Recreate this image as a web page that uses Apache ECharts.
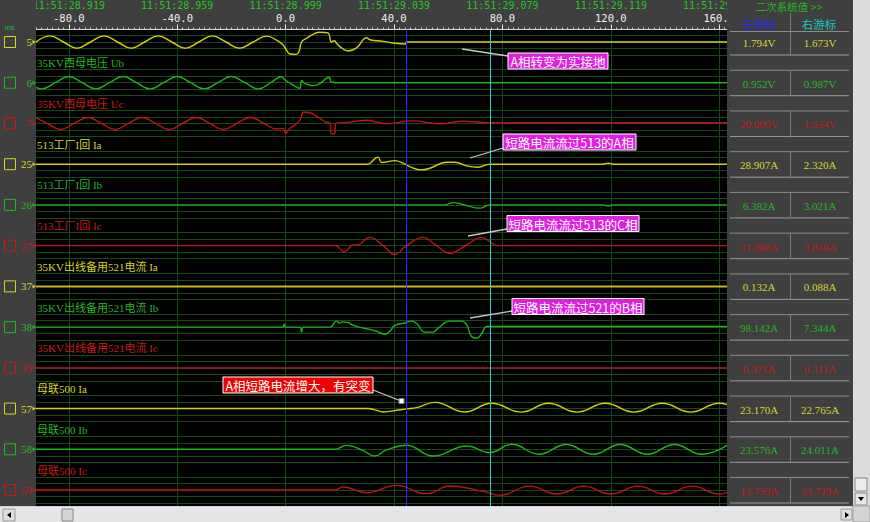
<!DOCTYPE html>
<html><head><meta charset="utf-8">
<script src="https://cdn.jsdelivr.net/npm/echarts@6/dist/echarts.min.js"></script>
<style>html,body{margin:0;padding:0;background:#3f3f3f}#c{width:870px;height:522px}</style>
</head><body><div id="c"></div>
<script>
// ---------- data ----------
const msTicks = [-80, -40, 0, 40, 80, 120, 160];
const timeTicks = ['11:51:28.919','11:51:28.959','11:51:28.999','11:51:29.039','11:51:29.079','11:51:29.119','11:51:29.159'];
const channelNumbers = ['5','6','7','25','26','27','37','38','39','57','58','59'];
const channelNames = ['', '35KV西母电压 Ub', '35KV西母电压 Uc', '513工厂I回 Ia', '513工厂I回 Ib', '513工厂I回 Ic',
  '35KV出线备用521电流 Ia', '35KV出线备用521电流 Ib', '35KV出线备用521电流 Ic', '母联500 Ia', '母联500 Ib', '母联500 Ic'];
const channelPhase = ['Y','G','R','Y','G','R','Y2','G','R','Y','G','R'];
const leftCursorValues = ['1.794V','0.952V','20.009V','28.907A','6.382A','31.086A','0.132A','98.142A','0.371A','23.170A','23.576A','13.739A'];
const rightCursorValues = ['1.673V','0.987V','1.634V','2.320A','3.021A','3.846A','0.088A','7.344A','0.311A','22.765A','24.011A','23.729A'];
const cursorTimes = [44.5, 75.5];
const panelTitle = '二次系统值 >>';
const cursorTitles = ['左游标', '右游标'];
const notes = ['A相转变为实接地', '短路电流流过513的A相', '短路电流流过513的C相', '短路电流流过521的B相', 'A相短路电流增大，有突变'];

// waveform samples [ms, value in grid units]
const ch5 = [[-92.2,-0.05],[-87,0.95],[-82,0],[-77,-0.95],[-72,0],[-67,0.95],[-62,0],[-57,-0.95],[-52,0],[-47,0.95],[-42,0],[-37,-0.95],[-32,0],[-27,0.95],[-22,0],[-17,-0.95],[-12,0],[-7,0.9],[-3,0.2],[-0.9,-0.46],[0.4,-1.3],[1.6,-1.85],[4,-1.9],[5,-1.4],[5.9,0],[7.7,0.57],[10.1,1.18],[12.6,1.49],[15.6,1.4],[16.9,0],[18,0.2],[18.8,-0.2],[20,-0.7],[23.1,-1.38],[26.2,-0.9],[29.9,0.66],[31.1,0.35],[36,0.1],[39.7,-0.15],[44.3,-0.3],[44.6,0],[162.9,0]];
const ch6 = [[-92.2,-0.72],[-90,-0.95],[-85,0],[-80,0.95],[-75,0],[-70,-0.95],[-65,0],[-60,0.95],[-55,0],[-50,-0.95],[-45,0],[-40,0.95],[-35,0],[-30,-0.95],[-25,0],[-20,0.95],[-15,0],[-10,-0.95],[-5.5,0],[-1.5,0.92],[-0.3,0.45],[2.5,-0.3],[5.2,-0.86],[5.9,0.35],[6.8,-0.05],[7.7,-0.2],[10.1,-0.45],[12.6,-0.15],[16,0.85],[16.9,0.05],[17.5,0.12],[18.2,0],[162.9,0]];
const ch7 = [[-92.2,0.88],[-88,0],[-83,-0.92],[-78,0],[-73,0.92],[-68,0],[-63,-0.92],[-58,0],[-53,0.92],[-48,0],[-43,-0.92],[-38,0],[-33,0.92],[-28,0],[-23,-0.92],[-18,0],[-13,0.92],[-8,0],[-3.4,-0.85],[-0.9,-0.75],[0.1,-1.55],[0.9,-1.0],[5.2,0.43],[6.5,1.72],[7.7,1.72],[15.1,0.18],[16.3,0.1],[16.9,-1.6],[18.1,-1.6],[18.5,-0.05],[24,0.2],[29.9,0.5],[37.2,-0.05],[47,0.4],[56.9,-0.05],[65.5,0.35],[75,0.1],[162.9,0.1]];
const ch25 = [[-92.2,0],[30,0],[31,0.1],[34.1,1.08],[35.4,0.25],[36.6,0.3],[40.3,0.55],[43.4,0.15],[45.8,-0.37],[50.1,-0.88],[53.2,-0.62],[59.4,0.3],[62.4,0.3],[66.8,-0.26],[71,-0.46],[75.4,0],[117,0],[119,0.15],[121,0],[162.9,0]];
const ch26 = [[-92.2,0],[58.5,0],[61.8,0.35],[66,0],[71.7,-0.5],[75.4,0],[117,0],[119,-0.15],[121,0],[162.9,0]];
const ch27 = [[-92.2,0],[18.1,0],[21.8,-0.92],[24.9,0.1],[26.8,0.15],[31.1,1.28],[36,0],[40.3,-1.35],[44.6,0],[50.7,1.28],[55.7,0],[60.6,-1.2],[66,-0.1],[72.5,1.28],[75.4,0.6],[78,0],[162.9,0]];
const ch37 = [[-92.2,0],[162.9,0]];
const ch38 = [[-92.2,0],[-1,0],[-0.5,0.45],[0,0],[5.3,0],[5.9,-0.77],[6.5,0],[16.3,0],[18.8,0.92],[20,0.62],[21,0.8],[23.1,0.68],[24.3,0.4],[27.4,-0.05],[31.1,-0.35],[34.1,-0.72],[36.6,-1.12],[38.5,-0.6],[40.3,0.26],[43.4,0.57],[46.5,0.92],[48.3,0.6],[51.4,-0.77],[54.4,-0.77],[56.3,-0.15],[60.6,0.92],[64.9,0.92],[66.8,0.4],[68.6,-1.45],[70.6,-1.7],[72.5,-0.9],[74.3,0.1],[162.9,0.1]];
const ch39 = [[-92.2,0],[162.9,0]];
const ch57 = [[-92.2,0],[30.5,0],[33,-0.2],[36,-0.52],[39.7,-0.35],[44.6,-0.05],[48.3,0.15],[55.1,0.95],[66.1,-0.52],[76,0.82],[87,-0.55],[97,0.82],[107.5,-0.55],[118,0.82],[128.5,-0.55],[139,0.82],[149.5,-0.55],[160,0.82],[162.9,0.6]];
const ch58 = [[-92.2,0],[18,0],[22.5,0.6],[28.6,-0.2],[32.9,-1.03],[37.2,-0.1],[44.6,0.62],[54.4,-1.03],[66.8,0.51],[75.4,-0.51],[83.4,0.77],[93.5,-0.75],[103.5,0.75],[113.5,-0.75],[123.5,0.75],[133.5,-0.75],[143.5,0.75],[153.5,-0.75],[162.9,0.6]];
const ch59 = [[-92.2,0],[18,0],[21.2,0.46],[29.9,-0.41],[40.9,0.72],[52,-0.56],[60.6,0.62],[72.9,-0.2],[79,-0.82],[90,0.6],[100,-0.6],[110,0.6],[120,-0.6],[130,0.6],[140,-0.6],[150,0.6],[160,-0.6],[162.9,-0.35]];
const waves = [ch5, ch6, ch7, ch25, ch26, ch27, ch37, ch38, ch39, ch57, ch58, ch59];

// ---------- layout / style ----------
const X0 = 285.6, K = 2.71, AX_MIN = -120, AX_MAX = 200;
const gridLeft = X0 + AX_MIN * K, gridWidth = (AX_MAX - AX_MIN) * K;
const base = i => 42 + i * 40.73;
const waveColor = {Y:'#d2d200', Y2:'#c8b41a', G:'#18b818', R:'#c41212'};
const textColor = {Y:'#d6d628', Y2:'#d6d628', G:'#22b822', R:'#c81818'};
const SERIF = '"Liberation Serif","Noto Sans CJK SC",serif';
const CJK = '"Noto Sans CJK SC","Liberation Sans",sans-serif';
const MONO = '"DejaVu Sans Mono","Liberation Mono",monospace';
const PANEL = '#3f3f3f';

const grids = [{left: gridLeft, top: 29.5, width: gridWidth, height: 476.5, show: true, backgroundColor: '#000', borderWidth: 0, outerBoundsMode: 'none'}];
const xAxes = [{
  gridIndex: 0, type: 'value', position: 'top', min: AX_MIN, max: AX_MAX, interval: 40,
  axisLine: {show: true, onZero: false, lineStyle: {color: '#d8d8d8', width: 1}},
  axisTick: {show: true, length: 5, lineStyle: {color: '#e8e8e8'}},
  minorTick: {show: true, splitNumber: 20, length: 2, lineStyle: {color: '#cfcfcf'}},
  splitLine: {show: true, lineStyle: {color: '#164816', width: 1}},
  axisLabel: {
    margin: 6,
    formatter: v => { const k = msTicks.indexOf(v); return k < 0 ? '' : '{t|' + timeTicks[k] + '}\n{v|' + v.toFixed(1) + '}'; },
    rich: {t: {color: '#1ec81e', fontFamily: MONO, fontSize: 10, lineHeight: 12},
           v: {color: '#f0f0f0', fontFamily: MONO, fontSize: 10.5, lineHeight: 12}}
  }
}];
const yAxes = [{gridIndex: 0, type: 'value', min: 0, max: 1, show: false}];
const series = [{
  type: 'line', xAxisIndex: 0, yAxisIndex: 0, data: [[0, -5]], showSymbol: false, lineStyle: {opacity: 0}, z: 8,
  markLine: {silent: true, symbol: ['none', 'none'], label: {show: false}, animation: false,
    data: [{xAxis: cursorTimes[0], lineStyle: {color: '#2a2aff', width: 1, type: 'solid'}},
           {xAxis: cursorTimes[1], lineStyle: {color: '#20d0d0', width: 1, type: 'solid'}}]}
}];
waves.forEach((w, i) => {
  const b = base(i);
  grids.push({left: gridLeft, top: b - 13, width: gridWidth, height: 26, show: false, outerBoundsMode: 'none'});
  xAxes.push({gridIndex: i + 1, type: 'value', min: AX_MIN, max: AX_MAX, show: false});
  yAxes.push({gridIndex: i + 1, type: 'value', min: -2, max: 2, interval: 1,
    axisLine: {show: false}, axisTick: {show: false}, axisLabel: {show: false},
    splitLine: {show: true, lineStyle: {color: '#174a17', width: 1}}});
  series.push({type: 'line', xAxisIndex: i + 1, yAxisIndex: i + 1, data: w, showSymbol: false, smooth: 0.45,
    clip: false, z: 4, lineStyle: {color: waveColor[channelPhase[i]], width: channelPhase[i] === 'Y2' ? 2 : 1.4}});
});

// ---------- graphics ----------
const els = [];
function txt(x, y, text, fill, size, align, family, z) {
  els.push({type: 'text', x, y, z: z || 110, silent: true,
    style: {text, fill, fontSize: size, fontFamily: family, align, verticalAlign: 'middle', textAlign: align, textVerticalAlign: 'middle'}});
}
function rect(x, y, w, h, fill, stroke, lw, z) {
  els.push({type: 'rect', z: z || 100, silent: true, shape: {x, y, width: w, height: h},
    style: {fill: fill || 'none', stroke: stroke || 'none', lineWidth: lw || 1}});
}
function line(x1, y1, x2, y2, stroke, lw, z) {
  els.push({type: 'line', z: z || 105, silent: true, shape: {x1, y1, x2, y2}, style: {stroke, lineWidth: lw || 1}});
}
function poly(points, fill, z) {
  els.push({type: 'polygon', z: z || 106, silent: true, shape: {points}, style: {fill}});
}

// side panels (cover the axis overflow)
rect(0, 0, 36, 506, PANEL);
rect(727, 0, 143, 506, PANEL);
txt(9.5, 27, 'ms', '#22b822', 7, 'center', 'Liberation Sans');

channelNumbers.forEach((n, i) => {
  const b = base(i), p = channelPhase[i], c = textColor[p];
  rect(4.5, b - 5.5, 11, 11, 'none', c, 1, 101);
  txt(32, b, n, c, 11, 'right', SERIF);
  poly([[32.5, b - 2], [36, b], [32.5, b + 2]], c);
  if (channelNames[i]) txt(37, b - 19.5, channelNames[i], c, 11, 'left', SERIF, 109);
  // right value panel
  const top = i === 0 ? 31.5 : b - 12.5;
  if (i > 0) line(730, top, 849, top, '#8c8c8c', 1);
  line(730, b + 13, 849, b + 13, '#9a9a9a', 1);
  line(790.5, i === 0 ? 13 : top, 790.5, b + 13, '#7c7c7c', 1);
  txt(759, b + 1, leftCursorValues[i], c, 11, 'center', SERIF);
  txt(820, b + 1, rightCursorValues[i], c, 11, 'center', SERIF);
});
line(730, 31.5, 849, 31.5, '#8c8c8c', 1);
txt(789, 6, panelTitle, '#22b822', 10.5, 'center', CJK);
txt(759, 24, cursorTitles[0], '#2a2ae8', 11.5, 'center', CJK);
txt(819, 24, cursorTitles[1], '#18c8c8', 11.5, 'center', CJK);

// scrollbars
rect(853, 0, 17, 506, '#dcdcdc');
rect(855, 478, 12, 13, '#ececec', '#8a8a8a', 1, 101);
rect(855, 493, 12, 12, '#e4e4e4', '#8a8a8a', 1, 101);
poly([[858, 497], [864, 497], [861, 501]], '#000');
rect(0, 506, 870, 16, '#e6e6e6');
line(0, 506.5, 853, 506.5, '#c4d0e4', 1, 101);
rect(3, 509, 12, 12, '#dedede', '#9a9a9a', 1, 101);
poly([[11, 512], [11, 518], [7, 515]], '#000');
rect(62, 509, 11, 12, '#d6d6d6', '#8a8a8a', 1, 101);
rect(841, 509, 11, 11, '#dedede', '#9a9a9a', 1, 101);
poly([[845, 512], [845, 518], [849, 515]], '#000');
rect(853, 506, 17, 16, '#d4d4d4', '#a0a0a0', 1, 101);

// annotations
function note(x, y, w, text, fill, lx, ly, lx2, ly2) {
  line(lx, ly, lx2, ly2, '#c8c8c8', 1.3, 111);
  rect(x, y, w, 16, fill, '#ffffff', 1, 112);
  txt(x + w / 2, y + 8.5, text, '#ffffff', 12.5, 'center', CJK, 113);
}
note(508, 53, 100, notes[0], '#e01ee0', 462, 49, 508, 56);
note(503, 134, 133, notes[1], '#e01ee0', 470, 158, 503, 148);
note(507, 215.5, 132, notes[2], '#e01ee0', 468, 236, 507, 229);
note(512, 298.5, 132, notes[3], '#e01ee0', 470, 318, 512, 311);
note(223, 377, 150, notes[4], '#ee0000', 373, 390, 401, 401);
rect(399, 398.5, 5, 5, '#ffffff', '#888888', 1, 114);

const chart = echarts.init(document.getElementById('c'), null, {renderer: 'svg', width: 870, height: 522});
chart.setOption({
  animation: false,
  backgroundColor: PANEL,
  grid: grids, xAxis: xAxes, yAxis: yAxes, series,
  graphic: {elements: els}
});
</script></body></html>
